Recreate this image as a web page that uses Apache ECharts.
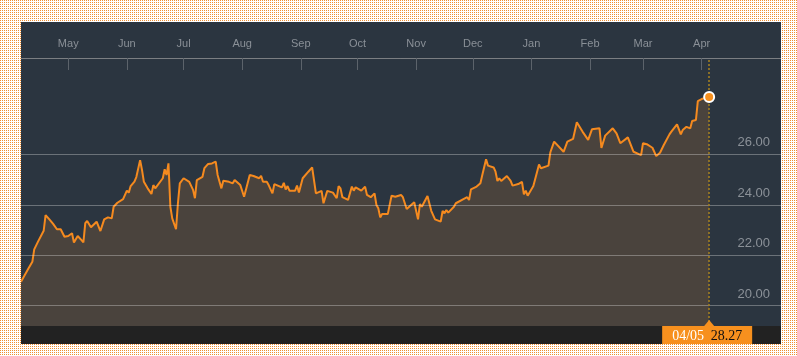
<!DOCTYPE html>
<html><head><meta charset="utf-8">
<script src="https://cdn.jsdelivr.net/npm/echarts@6/dist/echarts.min.js"></script>
<style>
html,body{margin:0;padding:0;width:797px;height:356px;overflow:hidden;}
body{background:#fff url("data:image/svg+xml,%3Csvg xmlns='http://www.w3.org/2000/svg' width='2' height='2'%3E%3Crect width='1' height='1' fill='%23ef8f33'/%3E%3C/svg%3E") repeat;}
#chart{position:absolute;left:21px;top:22px;width:760px;height:322px;background:#2b3540;}
</style></head><body><div id="chart"></div>
<script>
const dates = [
'2017-04-06','2017-04-07','2017-04-08','2017-04-10','2017-04-12','2017-04-13','2017-04-14','2017-04-15','2017-04-18','2017-04-19',
'2017-04-20','2017-04-21','2017-04-23','2017-04-25','2017-04-27','2017-04-29','2017-05-01','2017-05-03','2017-05-04','2017-05-06',
'2017-05-08','2017-05-09','2017-05-10','2017-05-11','2017-05-13','2017-05-16','2017-05-18','2017-05-20','2017-05-22','2017-05-24',
'2017-05-25','2017-05-27','2017-05-30','2017-06-01','2017-06-02','2017-06-03','2017-06-05','2017-06-06','2017-06-08','2017-06-09',
'2017-06-10','2017-06-12','2017-06-14','2017-06-15','2017-06-16','2017-06-17','2017-06-20','2017-06-21','2017-06-22','2017-06-23',
'2017-06-24','2017-06-25','2017-06-27','2017-06-28','2017-06-29','2017-07-01','2017-07-04','2017-07-06','2017-07-07','2017-07-08',
'2017-07-11','2017-07-12','2017-07-14','2017-07-16','2017-07-18','2017-07-19','2017-07-20','2017-07-21','2017-07-22','2017-07-25',
'2017-07-26','2017-07-27','2017-07-28','2017-07-31','2017-08-02','2017-08-05','2017-08-07','2017-08-10','2017-08-11','2017-08-12',
'2017-08-14','2017-08-15','2017-08-17','2017-08-18','2017-08-22','2017-08-23','2017-08-24','2017-08-25','2017-08-26','2017-08-29',
'2017-08-30','2017-08-31','2017-09-02','2017-09-05','2017-09-07','2017-09-08','2017-09-09','2017-09-12','2017-09-13','2017-09-15',
'2017-09-18','2017-09-20','2017-09-21','2017-09-22','2017-09-23','2017-09-26','2017-09-28','2017-09-29','2017-09-30','2017-10-03',
'2017-10-05','2017-10-06','2017-10-08','2017-10-10','2017-10-11','2017-10-12','2017-10-13','2017-10-14','2017-10-17','2017-10-19',
'2017-10-21','2017-10-24','2017-10-25','2017-10-27','2017-10-31','2017-11-02','2017-11-03','2017-11-04','2017-11-07','2017-11-08',
'2017-11-09','2017-11-11','2017-11-14','2017-11-15','2017-11-16','2017-11-17','2017-11-18','2017-11-21','2017-11-22','2017-11-26',
'2017-11-28','2017-11-29','2017-11-30','2017-12-01','2017-12-03','2017-12-05','2017-12-06','2017-12-08','2017-12-09','2017-12-12',
'2017-12-13','2017-12-14','2017-12-15','2017-12-16','2017-12-19','2017-12-21','2017-12-22','2017-12-25','2017-12-27','2017-12-28',
'2017-12-29','2017-12-30','2018-01-02','2018-01-04','2018-01-05','2018-01-06','2018-01-10','2018-01-11','2018-01-13','2018-01-18',
'2018-01-20','2018-01-23','2018-01-25','2018-01-28','2018-01-31','2018-02-02','2018-02-06','2018-02-07','2018-02-09','2018-02-13',
'2018-02-15','2018-02-17','2018-02-21','2018-02-24','2018-02-28','2018-03-01','2018-03-03','2018-03-06','2018-03-08','2018-03-10',
'2018-03-12','2018-03-13','2018-03-15','2018-03-16','2018-03-19','2018-03-20','2018-03-21','2018-03-22','2018-03-23','2018-03-24',
'2018-03-26','2018-03-27','2018-03-29','2018-03-30','2018-04-01','2018-04-05'
];
const prices = [
20.95,20.89,21.22,21.48,21.74,22.23,22.27,22.54,22.97,23.59,
23.63,23.42,23.24,23.03,23.03,22.73,22.76,22.87,22.50,22.76,
22.60,22.51,23.27,23.36,23.11,23.33,22.96,23.42,23.50,23.46,
23.92,24.08,24.22,24.56,24.48,24.74,24.92,25.10,25.77,25.38,
24.91,24.65,24.43,24.78,24.65,24.66,25.05,25.41,25.18,25.64,
23.92,23.46,23.03,24.06,24.85,25.05,24.91,24.59,24.26,24.98,
25.11,25.45,25.62,25.64,25.71,25.18,25.21,24.65,24.95,24.91,
24.98,24.85,24.98,24.78,24.32,25.18,25.14,25.05,25.15,24.91,
24.91,24.78,24.45,24.82,24.69,24.87,24.61,24.74,24.56,24.56,
24.76,24.49,25.05,25.31,25.48,25.41,24.45,24.55,24.06,24.55,
24.48,24.26,24.74,24.65,24.30,24.19,24.72,24.56,24.69,24.56,
24.72,24.39,24.30,24.45,23.99,23.86,23.50,23.63,23.63,24.36,
24.32,24.39,24.30,23.83,24.10,23.42,24.03,23.92,24.35,24.32,
23.76,23.42,23.33,23.76,23.66,23.79,23.69,23.92,24.06,24.22,
24.30,24.19,24.61,24.61,24.72,24.85,25.18,25.80,25.55,25.48,
25.31,24.94,25.05,24.94,25.14,24.95,24.76,24.82,24.91,24.41,
24.56,24.36,24.74,25.31,25.60,25.45,25.55,26.08,26.50,26.10,
26.50,26.61,27.27,26.90,26.57,26.99,27.03,26.25,26.74,27.03,
26.83,26.44,26.67,26.10,25.97,26.44,26.40,26.26,25.93,26.06,
26.37,26.30,26.79,26.90,27.19,27.23,26.79,26.96,26.92,27.09,
27.03,27.32,27.36,28.11,28.19,28.27
];
const monthTicks = ['2017-05-01','2017-06-01','2017-07-01','2017-08-01','2017-09-01','2017-10-01','2017-11-01','2017-12-01','2018-01-01','2018-02-01','2018-03-01','2018-04-01'];
const monthLabels = ['May','Jun','Jul','Aug','Sep','Oct','Nov','Dec','Jan','Feb','Mar','Apr'];
const yTicks = [20, 22, 24, 26];
const xMin = '2017-04-06', xMax = '2018-05-13';
const yMin = 19.195, yMax = 29.817;

const ts = s => +new Date(s + 'T00:00:00');
const tickTimes = monthTicks.map(ts);
const lastDate = dates[dates.length - 1];
const lastVal = prices[prices.length - 1];
const FONT = '"Liberation Sans", Arial, Helvetica, sans-serif';
const SERIF = '14px "Liberation Serif", "Times New Roman", serif';

const chart = echarts.init(document.getElementById('chart'), null, {renderer: 'canvas'});
const option = {
  animation: false,
  backgroundColor: '#2b3540',
  grid: {left: 0, right: 0, top: 36, bottom: 18, containLabel: false},
  xAxis: {
    type: 'value', position: 'top', min: ts(xMin), max: ts(xMax), scale: true,
    axisLine: {show: true, lineStyle: {color: '#7b7e82', width: 1}},
    axisTick: {show: true, inside: true, length: 12, lineStyle: {color: '#5c636b', width: 1},
      customValues: tickTimes.concat([ts(xMax)])},
    axisLabel: {show: true, customValues: tickTimes, color: '#8a9097', fontSize: 11, fontFamily: FONT, margin: 9,
      showMinLabel: true, showMaxLabel: true,
      formatter: v => { const i = tickTimes.indexOf(+v); return i >= 0 ? monthLabels[i] : ''; }},
    splitLine: {show: false}
  },
  yAxis: {
    type: 'value', min: yMin, max: yMax, show: false, splitLine: {show: false}
  },
  series: [{
    type: 'line',
    data: dates.map((d, i) => [ts(d), prices[i]]),
    showSymbol: false, symbol: 'none',
    lineStyle: {color: '#f58a1f', width: 2},
    itemStyle: {color: '#f58a1f'},
    areaStyle: {color: '#4a433d', opacity: 1, origin: 'start'},
    z: 2,
    markLine: {
      silent: true, symbol: 'none', animation: false,
      lineStyle: {color: 'rgba(255,255,255,0.3)', type: 'solid', width: 1},
      label: {show: true, position: 'insideEndTop', color: '#8b9198', fontSize: 13, fontFamily: FONT, distance: [11, 5]},
      emphasis: {disabled: true},
      data: yTicks.map(v => ({yAxis: v, label: {formatter: v.toFixed(2)}})).concat([
        {xAxis: ts(lastDate), lineStyle: {color: '#a9821f', type: [2, 2], width: 1.5}, label: {show: false}}
      ])
    },
    markPoint: {
      silent: true, animation: false,
      symbol: 'circle', symbolSize: 10,
      itemStyle: {color: '#f7901e', borderColor: '#ffffff', borderWidth: 2},
      label: {show: false},
      data: [{coord: [ts(lastDate), lastVal]}]
    }
  }]
};
chart.setOption(option);

// bottom strip + last-value label positioned via the chart's own scale
const px = chart.convertToPixel({xAxisIndex: 0}, ts(lastDate));
const chartH = 322, stripH = 18, stripTop = chartH - stripH;
const dParts = lastDate.split('-');
chart.setOption({
  graphic: [
    {type: 'rect', z: 50, silent: true, shape: {x: 0, y: stripTop, width: 760, height: stripH}, style: {fill: '#222222'}},
    {type: 'polygon', z: 60, silent: true, shape: {points: [[px - 5, stripTop], [px + 5, stripTop], [px, stripTop - 6]]}, style: {fill: '#f7901e'}},
    {type: 'rect', z: 60, silent: true, shape: {x: px - 47, y: stripTop, width: 90, height: stripH}, style: {fill: '#f7901e'}},
    {type: 'text', z: 61, silent: true, x: px - 37, y: stripTop + stripH / 2 + 1,
      style: {text: dParts[1] + '/' + dParts[2], fill: '#ffffff', font: SERIF, verticalAlign: 'middle', align: 'left'}},
    {type: 'text', z: 61, silent: true, x: px + 33, y: stripTop + stripH / 2 + 1,
      style: {text: lastVal.toFixed(2), fill: '#111111', font: SERIF, verticalAlign: 'middle', align: 'right'}}
  ]
});
</script></body></html>
